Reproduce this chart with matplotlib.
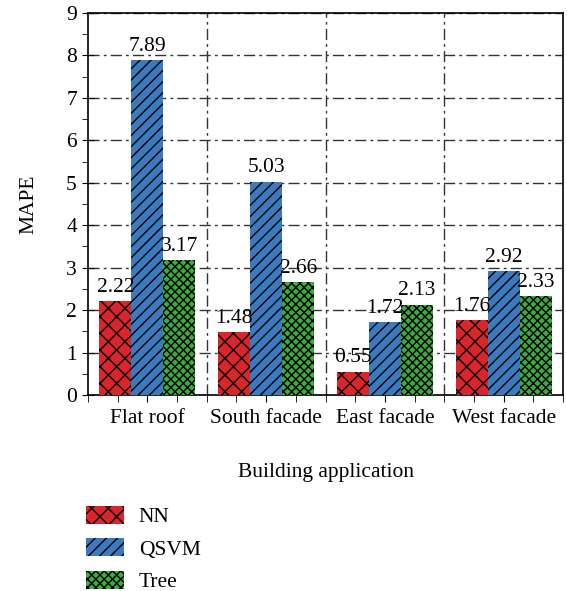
import numpy as np
import matplotlib.pyplot as plt
from matplotlib.patches import Patch
from matplotlib.ticker import MultipleLocator

plt.rcParams['font.family'] = ['Liberation Serif', 'DejaVu Serif']
plt.rcParams['hatch.linewidth'] = 1.0

categories = ['Flat roof', 'South facade', 'East facade', 'West facade']
series = ['NN', 'QSVM', 'Tree']
nn = [2.22, 1.48, 0.55, 1.76]
qsvm = [7.89, 5.03, 1.72, 2.92]
tree = [3.17, 2.66, 2.13, 2.33]
values = [nn, qsvm, tree]
colors = ['#d9262a', '#3a7bbf', '#3caa3c']
hatches = ['xx', '///', 'xxxx']
fs = 15.5

fig = plt.figure(figsize=(5.67, 5.91), dpi=100)
ax = fig.add_axes([88 / 567, 1 - 395 / 591, (563 - 88) / 567, (395 - 13) / 591])

x = np.arange(len(categories))
w = 0.27
for i, (vals, c, h) in enumerate(zip(values, colors, hatches)):
    pos = x + (i - 1) * w
    ax.bar(pos, vals, w, color=c, hatch=h, edgecolor='black', linewidth=0, zorder=3)
    for p, v in zip(pos, vals):
        ax.text(p, v + 0.1, f'{v:.2f}', ha='center', va='bottom', fontsize=fs, zorder=4)

ax.set_xlim(-0.5, 3.5)
ax.set_ylim(0, 9)
ax.set_xticks(x)
ax.set_xticklabels(categories, fontsize=fs)
ax.xaxis.set_minor_locator(MultipleLocator(0.25))
ax.yaxis.set_major_locator(MultipleLocator(1))
ax.yaxis.set_minor_locator(MultipleLocator(0.5))
ax.tick_params(axis='y', which='major', direction='inout', length=8, labelsize=fs, pad=4)
ax.tick_params(axis='y', which='minor', direction='out', length=4)
ax.tick_params(axis='x', which='major', direction='out', length=5, labelsize=fs, pad=5)
ax.tick_params(axis='x', which='minor', direction='out', length=5)

ax.grid(axis='y', which='major', color='#333333', linestyle=(0, (8, 3, 2, 3)), linewidth=1.0, zorder=0)
for b in [0.5, 1.5, 2.5]:
    ax.axvline(b, color='#333333', linestyle=(0, (8, 3, 2, 3)), linewidth=1.0, zorder=0)

for s in ax.spines.values():
    s.set_linewidth(1.2)

ax.set_ylabel('MAPE', fontsize=fs, labelpad=20)
ax.set_xlabel('Building application', fontsize=fs, labelpad=25)

handles = [Patch(facecolor=c, hatch=h, edgecolor='black', linewidth=0) for c, h in zip(colors, hatches)]
fig.legend(handles, series, loc='upper left', bbox_to_anchor=(86 / 567, 1 - 506 / 591),
           frameon=False, fontsize=fs, handlelength=1.75, handleheight=0.92, labelspacing=0.5,
           handletextpad=0.7, borderpad=0, borderaxespad=0)

fig.savefig('out.png', dpi=100)
